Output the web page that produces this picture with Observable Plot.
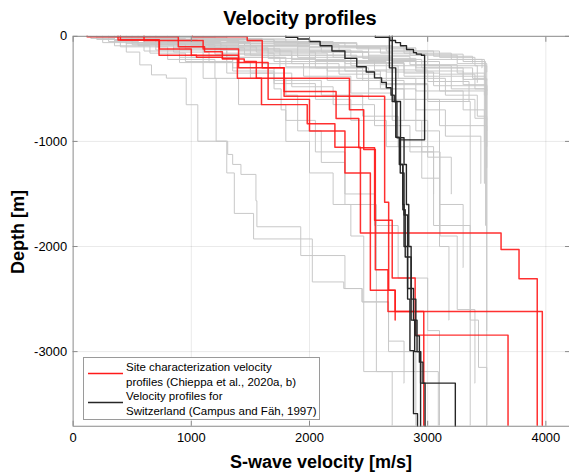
<!DOCTYPE html>
<html><head><meta charset="utf-8">
<script src="https://cdn.jsdelivr.net/npm/d3@7"></script>
<script src="https://cdn.jsdelivr.net/npm/@observablehq/plot@0.6"></script>
<style>
body{margin:0;overflow:hidden;background:#fff;font-family:"Liberation Sans",Arial,Helvetica,sans-serif;color:#000;}
#wrap{position:relative;width:569px;height:473px;overflow:hidden;}
#chart{position:absolute;left:0;top:0;}
.title{position:absolute;left:200px;width:200px;top:6px;text-align:center;font-weight:bold;font-size:20px;line-height:24px;white-space:nowrap;}
.xlabel{position:absolute;left:171px;width:300px;top:452px;text-align:center;font-weight:bold;font-size:18px;line-height:20px;white-space:nowrap;}
.ylabel{position:absolute;left:-82px;width:200px;top:222px;text-align:center;font-weight:bold;font-size:18px;line-height:20px;transform:rotate(-90deg);white-space:nowrap;}
.legend{position:absolute;left:83px;top:357px;width:235px;height:61px;border:1px solid #9a9a9a;background:#fff;}
.legend svg{position:absolute;left:0;top:0;}
.legend .txt{position:absolute;left:42px;white-space:nowrap;font-size:11.5px;line-height:14.5px;}
</style></head><body>
<div id="wrap">
<div id="chart"></div>
<div class="title">Velocity profiles</div>
<div class="xlabel">S-wave velocity [m/s]</div>
<div class="ylabel">Depth [m]</div>
<div class="legend">
  <svg width="40" height="61"><line x1="4" x2="39" y1="15.5" y2="15.5" stroke="#ff1a1a" stroke-width="1.5"/><line x1="4" x2="39" y1="44.5" y2="44.5" stroke="#262626" stroke-width="1.5"/></svg>
  <div class="txt" style="top:2px;">Site characterization velocity<br>profiles (Chieppa et al., 2020a, b)</div>
  <div class="txt" style="top:31px;">Velocity profiles for<br>Switzerland (Campus and Fäh, 1997)</div>
</div>
</div>
<script>
// Tick values
const xTicks = [0, 1000, 2000, 3000, 4000];
const yTicks = [0, -1000, -2000, -3000];

// Each profile: [v0, d1, v1, d2, ..., vn, dEnd]  (velocity m/s, depth m, negative down)
const grayProfiles = [
  [120,-5, 400,-20, 900,-40, 1400,-70, 2000,-110, 2600,-160, 3000,-220, 3480,-420],
  [200,-8, 500,-25, 800,-50, 1250,-90, 1700,-140, 2200,-200, 2700,-280, 3200,-380, 3490,-650],
  [300,-10, 650,-30, 1000,-60, 1500,-100, 2100,-150, 2500,-230, 2900,-330, 3300,-460, 3500,-800],
  [450,-15, 750,-35, 1150,-70, 1600,-120, 2000,-180, 2400,-250, 2800,-350, 3100,-520, 3480,-1000],
  [380,-25, 600,-55, 900,-90, 1300,-130, 1900,-200, 2350,-280, 2750,-400, 3150,-560, 3420,-760, 3500,-1250],
  [250,-30, 700,-65, 1150,-100, 1550,-150, 2050,-230, 2550,-320, 3000,-430, 3350,-620],
  [550,-20, 950,-45, 1450,-85, 1900,-130, 2350,-190, 2850,-270, 3250,-350, 3480,-560],
  [150,-20, 350,-40, 700,-75, 1100,-110, 1650,-160, 2150,-240, 2650,-340, 3050,-470, 3500,-900],
  [650,-30, 1050,-60, 1500,-90, 2000,-140, 2450,-210, 2900,-300, 3380,-400, 3500,-520],
  [400,-40, 800,-80, 1200,-120, 1750,-180, 2300,-260, 2800,-380, 3200,-500, 3490,-700],
  [300,-50, 550,-90, 900,-130, 1300,-200, 1800,-290, 2400,-400, 2900,-520, 3300,-700, 3480,-1400],
  [700,-45, 1000,-80, 1400,-140, 1850,-220, 2300,-330, 2650,-450, 3000,-600, 3400,-780, 3500,-2800],
  [500,-60, 850,-110, 1250,-160, 1700,-240, 2150,-330, 2600,-460, 3000,-620, 3360,-2700, 3430,-3150, 3500,-3700],
  [350,-35, 600,-70, 950,-120, 1300,-200, 1750,-300, 2150,-420, 2500,-600, 2900,-900, 3100,-1600, 3300,-2200],
  [600,-55, 900,-100, 1200,-170, 1600,-260, 1950,-380, 2350,-540, 2700,-800, 3000,-1150, 3200,-1500],
  [450,-70, 700,-130, 1000,-200, 1350,-300, 1700,-420, 2100,-560, 2450,-760, 2750,-1050, 3050,-1800, 3360,-3700],
  [800,-60, 1100,-110, 1450,-180, 1850,-260, 2250,-360, 2600,-500, 2900,-700, 3150,-950, 3450,-1400],
  [550,-80, 850,-150, 1150,-250, 1500,-350, 1850,-480, 2200,-650, 2550,-850, 2850,-1100, 3050,-1500],
  [900,-70, 1250,-130, 1650,-210, 2050,-300, 2450,-420, 2800,-600, 3100,-850, 3500,-3700],
  [350,-90, 650,-160, 950,-240, 1350,-330, 1700,-450, 2050,-600, 2350,-800, 2650,-1050, 2950,-1350, 3100,-2000, 3180,-2700],
  [200,-30, 450,-150, 564,-272, 663,-367, 789,-398, 957,-651, 1055,-998, 1308,-1124, 1350,-1219, 1420,-1314, 1547,-1565, 1555,-1812, 1926,-2086, 2300,-2400, 2445,-2527, 2669,-2900, 2800,-3300],
  [250,-60, 600,-140, 900,-250, 1100,-400, 1210,-998, 1300,-1300, 1364,-1685, 1527,-1928, 2024,-2337, 2290,-2400, 2445,-2527, 2669,-3000, 2900,-3700],
  [500,-80, 900,-200, 1300,-350, 1700,-500, 1760,-700, 1800,-1000, 2000,-1300, 2200,-1600, 2350,-1900, 2459,-3190, 3090,-3700],
  [700,-100, 1100,-250, 1500,-400, 1800,-560, 1900,-900, 2100,-1200, 2300,-1600, 2566,-3190, 2700,-3700],
  [400,-100, 800,-220, 1200,-400, 1400,-650, 1800,-800, 2050,-1100, 2300,-1500, 2550,-1800, 2750,-2300, 3000,-2800, 3100,-3700],
  [600,-30, 1000,-90, 1500,-180, 2000,-300, 2500,-500, 2800,-800, 2950,-1100, 3105,-1900, 3250,-2600, 3400,-3300],
  [1000,-20, 1600,-50, 2200,-90, 2700,-140, 3100,-200, 3400,-280, 3500,-420],
  [800,-15, 1300,-35, 1900,-70, 2400,-120, 2850,-180, 3250,-260, 3500,-340],
  [1200,-25, 1800,-60, 2400,-110, 2900,-170, 3300,-240, 3490,-1800],
  [700,-10, 1200,-30, 1700,-60, 2300,-100, 2800,-160, 3200,-220, 3460,-300],
  [900,-40, 1400,-90, 2000,-150, 2500,-220, 2950,-300, 3300,-410, 3500,-560],
  [1100,-30, 1700,-80, 2250,-150, 2700,-240, 3100,-360, 3400,-500, 3500,-1050],
  [1300,-50, 1900,-100, 2500,-180, 3000,-280, 3420,-440],
  [600,-8, 1000,-25, 1500,-55, 2100,-95, 2650,-140, 3050,-190, 3380,-250]
];

const redProfiles = [
  [118,-5, 890,-99, 1112,-147, 1263,-209, 1390,-398, 2338,-698, 2459,-1077, 2557,-2220, 2664,-2619, 2967,-3700],
  [380,-36, 730,-120, 1000,-180, 1400,-300, 1785,-525, 2225,-783, 2417,-1060, 2551,-1750, 2700,-2300, 2894,-2843, 3680,-3700],
  [1010,-5, 1473,-40, 1600,-300, 1785,-570, 2636,-1578, 2670,-2417, 2725,-2619, 3970,-3700],
  [400,-35, 727,-180, 1044,-200, 1263,-215, 1448,-240, 1550,-400, 1594,-650, 1981,-833, 2215,-1055, 2431,-1871, 3621,-2029, 3773,-2306, 3927,-3700],
  [600,-40, 1100,-120, 1400,-250, 1650,-600, 2000,-900, 2300,-1300, 2515,-2417, 2725,-2700]
];

const blackProfiles = [
  [1800,-10, 1900,-25, 2000,-50, 2090,-90, 2190,-140, 2300,-210, 2400,-290, 2480,-340, 2550,-395, 2610,-440, 2650,-490, 2690,-560, 2717,-620, 2730,-960, 2760,-1220, 2790,-1650, 2810,-2100, 2830,-2500, 2850,-2990, 2880,-3590, 2914,-3710],
  [2676,-300, 2700,-620, 2740,-965, 2770,-1220, 2790,-1600, 2800,-2000, 2830,-2400, 2860,-2700, 2890,-3000, 2940,-3300, 2978,-3710],
  [2557,-10, 2680,-40, 2728,-60, 2770,-90, 2821,-125, 2880,-155, 2905,-170, 2947,-180, 2974,-985, 2768,-1300, 2800,-1700, 2830,-2100, 2860,-2500, 2900,-2850, 2930,-3100, 2960,-3300, 3234,-3710],
  [2700,-300, 2730,-620, 2770,-965, 2800,-1220, 2820,-1600, 2840,-2000, 2860,-2400, 2880,-2700, 2910,-3000, 2940,-3710]
];

function rows(profiles, group) {
  const out = [];
  profiles.forEach((p, k) => {
    const id = group + k;
    let d = 0;
    for (let i = 0; i < p.length - 1; i += 2) {
      out.push({id, v: p[i], d});
      d = p[i + 1];
    }
    out.push({id, v: p[p.length - 2], d});
  });
  return out;
}

const grayRows = rows(grayProfiles, "g");
const redRows = rows(redProfiles, "r");
const blackRows = rows(blackProfiles, "k");

const fmt = d => String(d);
const blank = () => "";

const chart = Plot.plot({
  width: 572,
  height: 473,
  marginLeft: 73,
  marginRight: 0,
  marginTop: 36,
  marginBottom: 45,
  x: {domain: [0, 4200]},
  y: {domain: [-3710, 0]},
  style: {fontFamily: '"Liberation Sans", Arial, Helvetica, sans-serif', fontSize: "13px", color: "#000", background: "#fff"},
  marks: [
    Plot.gridX(xTicks.slice(1), {stroke: "#000", strokeOpacity: 0.09, strokeWidth: 1}),
    Plot.gridY(yTicks.slice(1), {stroke: "#000", strokeOpacity: 0.09, strokeWidth: 1}),
    Plot.line(grayRows, {x: "v", y: "d", z: "id", curve: "step-before", stroke: "#c8c8c8", strokeWidth: 1}),
    Plot.line(redRows, {x: "v", y: "d", z: "id", curve: "step-before", stroke: "#ff1a1a", strokeWidth: 1.5, strokeOpacity: 0.9}),
    Plot.line(blackRows, {x: "v", y: "d", z: "id", curve: "step-before", stroke: "#262626", strokeWidth: 1.4}),
    Plot.frame({stroke: "#8a8a8a", strokeWidth: 1}),
    Plot.axisX({ticks: xTicks, anchor: "bottom", tickSize: 0, tickPadding: 7, tickFormat: fmt, label: null, fontSize: 13}),
    Plot.axisY({ticks: yTicks, anchor: "left", tickSize: 0, tickPadding: 6, tickFormat: fmt, label: null, fontSize: 13}),
    Plot.axisX({ticks: xTicks, anchor: "bottom", tickSize: -5, tickFormat: blank, label: null, stroke: "#8a8a8a"}),
    Plot.axisX({ticks: xTicks, anchor: "top", tickSize: -5, tickFormat: blank, label: null, stroke: "#8a8a8a"}),
    Plot.axisY({ticks: yTicks, anchor: "left", tickSize: -5, tickFormat: blank, label: null, stroke: "#8a8a8a"}),
    Plot.axisY({ticks: yTicks, anchor: "right", tickSize: -5, tickFormat: blank, label: null, stroke: "#8a8a8a"})
  ]
});
document.getElementById("chart").appendChild(chart);
</script>
</body></html>
